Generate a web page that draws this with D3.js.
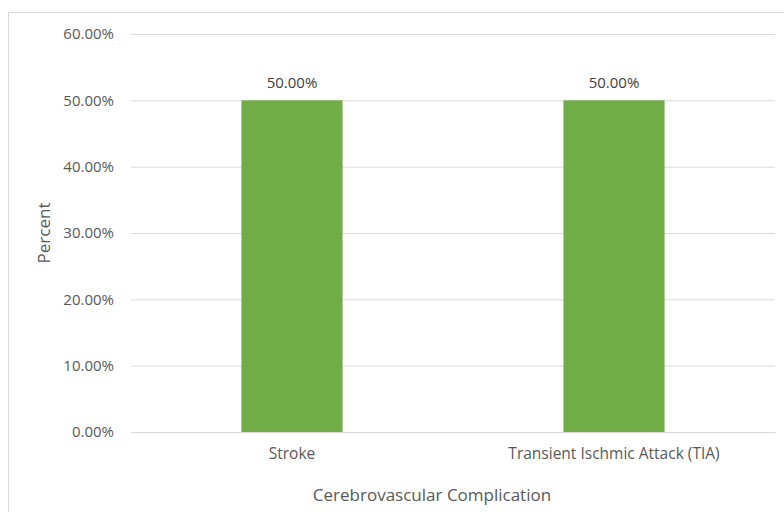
<!DOCTYPE html>
<html>
<head>
<meta charset="utf-8">
<script src="https://cdn.jsdelivr.net/npm/d3@7"></script>
<style>
  html, body { margin: 0; padding: 0; background: #fff; }
  svg { display: block; }
</style>
</head>
<body>
<svg id="chart" width="784" height="512"></svg>
<script>
// Share of cerebrovascular complications
const categories = ["Stroke", "Transient Ischmic Attack (TIA)"];
const percentValues = [50, 50];
const yTicks = [0, 10, 20, 30, 40, 50, 60];

const FONT = "'Open Sans', Lato, sans-serif";
const svg = d3.select("#chart").attr("font-family", FONT);
const W = 784, H = 512;
const margin = { left: 131, right: 9, top: 34, bottom: 80 };
const labelSize = "15px";

// outer chart frame
svg.append("rect")
  .attr("x", 8.5).attr("y", 12.5)
  .attr("width", W + 10).attr("height", H + 10)
  .attr("fill", "none").attr("stroke", "#d9d9d9");

const x = d3.scaleBand()
  .domain(categories)
  .range([margin.left, W - margin.right])
  .padding(0);

const y = d3.scaleLinear()
  .domain([0, 60])
  .range([H - margin.bottom, margin.top]);

const fmt = d => d.toFixed(2) + "%";

// horizontal gridlines + tick labels
const yAxis = d3.axisLeft(y)
  .tickValues(yTicks)
  .tickSize(-(W - margin.right - margin.left))
  .tickPadding(17)
  .tickFormat(fmt);

const gy = svg.append("g")
  .attr("transform", `translate(${margin.left},0)`)
  .call(yAxis)
  .attr("font-family", FONT);
gy.select(".domain").remove();
gy.selectAll(".tick line").attr("stroke", "#d9d9d9");
gy.selectAll(".tick text")
  .attr("fill", "#595959")
  .style("font-size", labelSize);

// bars
const barFrac = 0.314;
const bw = x.bandwidth() * barFrac;
svg.append("g").selectAll("rect")
  .data(categories)
  .join("rect")
  .attr("x", d => x(d) + (x.bandwidth() - bw) / 2)
  .attr("width", bw)
  .attr("y", (d, i) => y(percentValues[i]))
  .attr("height", (d, i) => y(0) - y(percentValues[i]))
  .attr("fill", "#70ad47");

// value labels
svg.append("g").selectAll("text")
  .data(categories)
  .join("text")
  .attr("x", d => x(d) + x.bandwidth() / 2)
  .attr("y", (d, i) => y(percentValues[i]) - 12)
  .attr("text-anchor", "middle")
  .attr("fill", "#404040")
  .style("font-size", labelSize)
  .text((d, i) => fmt(percentValues[i]));

// category labels
const xAxis = d3.axisBottom(x).tickSize(0).tickPadding(16);
const gx = svg.append("g")
  .attr("transform", `translate(0,${y(0)})`)
  .call(xAxis)
  .attr("font-family", FONT);
gx.select(".domain").attr("stroke", "#d9d9d9");
gx.selectAll(".tick text")
  .attr("fill", "#595959")
  .style("font-size", "15.5px");

// axis titles
svg.append("text")
  .attr("x", 432)
  .attr("y", 501)
  .attr("text-anchor", "middle")
  .attr("fill", "#595959")
  .style("font-size", "17px")
  .text("Cerebrovascular Complication");

svg.append("text")
  .attr("transform", `translate(50,${y(30)}) rotate(-90)`)
  .attr("text-anchor", "middle")
  .attr("fill", "#595959")
  .style("font-size", "17px")
  .text("Percent");
</script>
</body>
</html>
